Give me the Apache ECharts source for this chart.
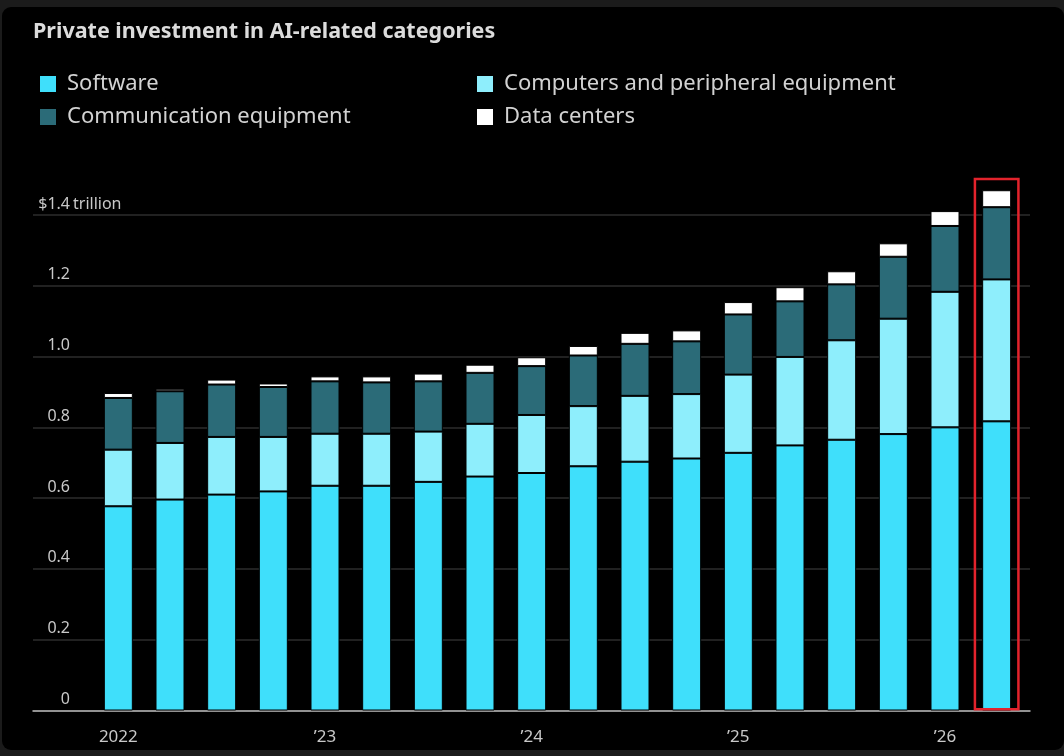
<!DOCTYPE html>
<html>
<head>
<meta charset="utf-8">
<script src="https://cdn.jsdelivr.net/npm/echarts@6/dist/echarts.min.js"></script>
<style>
  html, body { margin: 0; padding: 0; background: #1b1b1b; }
  #panel { position: absolute; left: 2px; top: 7px; right: 0; bottom: 6px; background: #000; border-radius: 9px; }
  #chart { position: absolute; left: 0; top: 0; width: 1064px; height: 756px; }
</style>
</head>
<body>
<div id="panel"></div>
<div id="chart"></div>
<script>
// quarters, 2022 Q1 .. 2026 Q2
var quarters = ['2022 Q1','2022 Q2','2022 Q3','2022 Q4','2023 Q1','2023 Q2','2023 Q3','2023 Q4',
                '2024 Q1','2024 Q2','2024 Q3','2024 Q4','2025 Q1','2025 Q2','2025 Q3','2025 Q4',
                '2026 Q1','2026 Q2'];
var yearLabels = ['2022', '\u201923', '\u201924', '\u201925', '\u201926'];

// $ trillion
var software  = [0.577, 0.596, 0.610, 0.619, 0.635, 0.635, 0.646, 0.661, 0.671, 0.690, 0.703, 0.712, 0.728, 0.749, 0.765, 0.781, 0.800, 0.817];
var computers = [0.160, 0.160, 0.163, 0.154, 0.147, 0.147, 0.142, 0.149, 0.164, 0.170, 0.186, 0.182, 0.221, 0.250, 0.281, 0.326, 0.383, 0.401];
var commEquip = [0.146, 0.146, 0.148, 0.141, 0.148, 0.145, 0.142, 0.144, 0.138, 0.143, 0.147, 0.149, 0.170, 0.157, 0.158, 0.175, 0.186, 0.204];
var dataCenters = [0.014, 0.007, 0.014, 0.010, 0.014, 0.017, 0.022, 0.023, 0.025, 0.027, 0.031, 0.031, 0.035, 0.040, 0.037, 0.038, 0.042, 0.048];

// red box round the latest quarter
var highlightTop = 1.505;

var chart = echarts.init(document.getElementById('chart'));

var font = 'Noto Sans';
var gridTop = 215, gridBottom = 45.5;

function stackBar(name, data, color) {
    return {
        name: name,
        type: 'bar',
        stack: 'total',
        xAxisIndex: 1,
        yAxisIndex: 2,
        barWidth: 29,
        clip: false,
        itemStyle: { color: color, borderColor: '#000', borderWidth: 1 },
        emphasis: { disabled: true },
        data: data
    };
}

var legendCommon = {
    orient: 'vertical',
    top: 68,
    icon: 'rect',
    itemWidth: 16,
    itemHeight: 16,
    itemGap: 11,
    itemStyle: { borderWidth: 0 },
    selectedMode: false,
    textStyle: { color: '#d2d2d2', fontSize: 22, fontFamily: font, padding: [0, 0, 0, 6] }
};

var option = {
    backgroundColor: 'transparent',
    animation: false,
    title: {
        text: 'Private investment in AI-related categories',
        left: 28,
        top: 16,
        textStyle: { color: '#dcdcdc', fontSize: 21.5, fontWeight: 'bold', fontFamily: font }
    },
    legend: [
        Object.assign({}, legendCommon, { left: 35, data: ['Software', 'Communication equipment'] }),
        Object.assign({}, legendCommon, { left: 472, data: ['Computers and peripheral equipment', 'Data centers'] })
    ],
    grid: [
        { left: 33, right: 34, top: gridTop, bottom: gridBottom },
        { left: 92.5, right: 41.5, top: gridTop, bottom: gridBottom }
    ],
    xAxis: [
        {   // full-width baseline
            type: 'value', gridIndex: 0, min: 0, max: 1,
            axisLine: { show: true, lineStyle: { color: '#b8b8b8', width: 1.5 } },
            axisTick: { show: false }, axisLabel: { show: false }, splitLine: { show: false }
        },
        {   // quarter ticks
            type: 'category', gridIndex: 1, data: quarters,
            axisLine: { show: false },
            axisTick: { alignWithLabel: true, length: 4, lineStyle: { color: '#b8b8b8', width: 1.5 } },
            axisLabel: { show: false }
        },
        {   // year ticks and labels
            type: 'category', gridIndex: 1, data: quarters, position: 'bottom',
            axisLine: { show: false },
            axisTick: {
                alignWithLabel: true, length: 8, lineStyle: { color: '#b8b8b8', width: 1.5 },
                interval: function (i) { return i % 4 === 0; }
            },
            axisLabel: {
                interval: function (i) { return i % 4 === 0; },
                formatter: function (v, i) { return yearLabels[i / 4]; },
                color: '#c8c8c8', fontSize: 17, fontFamily: font, margin: 18
            }
        }
    ],
    yAxis: [
        {
            type: 'value', gridIndex: 0, min: 0, max: 1.4, interval: 0.2,
            axisLine: { show: false }, axisTick: { show: false },
            splitLine: { lineStyle: { color: '#2c2c2c', width: 1.5 } },
            axisLabel: {
                inside: true, margin: 37, align: 'right', verticalAlign: 'bottom',
                padding: [0, 0, 3, 0],
                color: '#c8c8c8', fontSize: 16, fontFamily: font,
                formatter: function (v) {
                    var r = Math.round(v * 10) / 10;
                    if (r === 0) return '0';
                    return (r >= 1.4 ? '$' : '') + r.toFixed(1);
                }
            }
        },
        {
            type: 'value', gridIndex: 0, min: 0, max: 1.4, interval: 0.2, position: 'left',
            axisLine: { show: false }, axisTick: { show: false }, splitLine: { show: false },
            axisLabel: {
                inside: true, margin: 40, align: 'left', verticalAlign: 'bottom',
                padding: [0, 0, 3, 0],
                color: '#c8c8c8', fontSize: 16, fontFamily: font,
                formatter: function (v) { return Math.abs(v - 1.4) < 1e-6 ? 'trillion' : ''; }
            }
        },
        { type: 'value', gridIndex: 1, min: 0, max: 1.4, show: false }
    ],
    series: [
        stackBar('Software', software, '#3fdffb'),
        stackBar('Computers and peripheral equipment', computers, '#8eeefc'),
        stackBar('Communication equipment', commEquip, '#2b6b78'),
        stackBar('Data centers', dataCenters, '#ffffff'),
        {
            name: 'highlight',
            type: 'bar',
            xAxisIndex: 2,
            yAxisIndex: 2,
            barWidth: 46,
            clip: false,
            z: 5,
            silent: true,
            itemStyle: { color: 'rgba(0,0,0,0)', borderColor: '#e3232c', borderWidth: 2.5 },
            data: quarters.map(function (q, i) { return i === quarters.length - 1 ? highlightTop : null; })
        }
    ]
};

chart.setOption(option);
</script>
</body>
</html>
